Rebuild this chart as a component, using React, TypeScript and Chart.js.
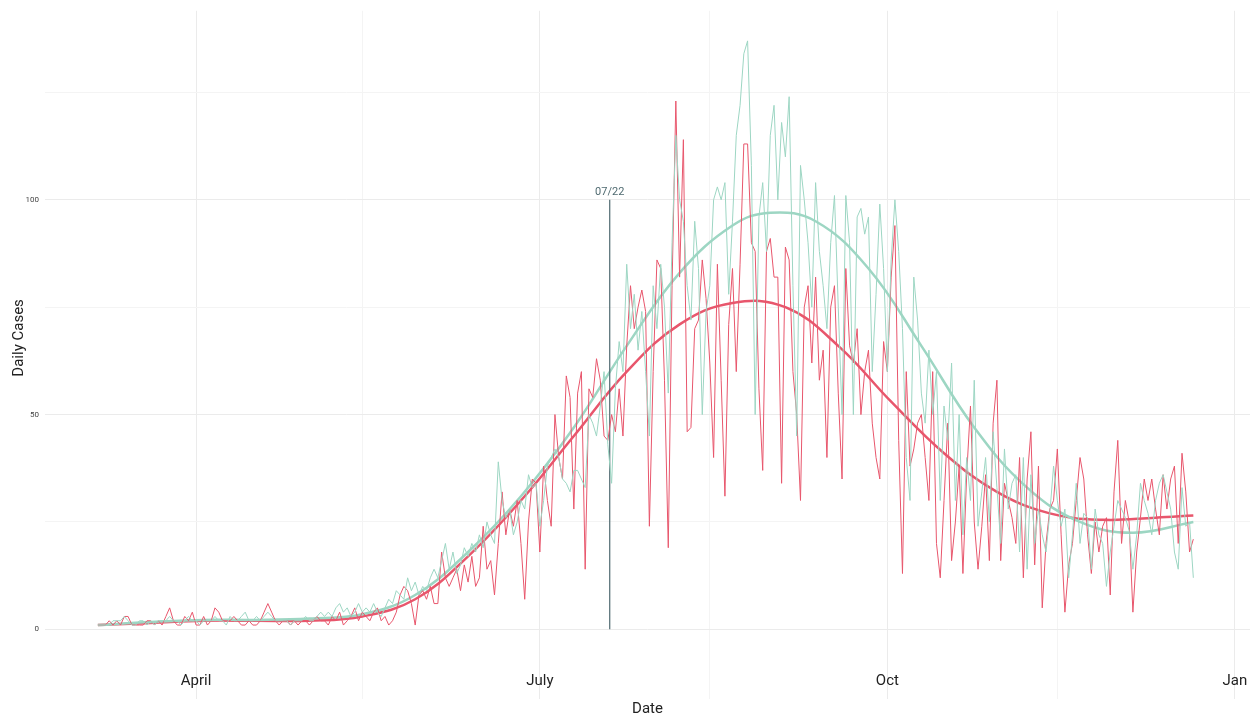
import { useEffect, useRef } from "react"
import { Chart, registerables } from "chart.js"

Chart.register(...registerables)

// days counted from April 1st; first observation is Mar 6 (day -26)
const startDay = -26
const markerDay = 109.5
const markerLabel = "07/22"

const xTickDays = [0, 44, 91, 136, 183, 228, 275]
const xTickNames: Record<number, string> = { 0: "April", 91: "July", 183: "Oct", 275: "Jan" }
const yTickValues = [0, 25, 50, 75, 100, 125]

const redDaily = [
  1, 1, 1, 2, 1, 2, 1, 3, 3, 1,
  1, 1, 1, 2, 2, 1, 2, 1, 3, 5,
  2, 1, 1, 3, 2, 4, 1, 1, 3, 1,
  2, 5, 4, 2, 2, 2, 3, 2, 1, 1,
  2, 1, 1, 2, 4, 6, 4, 2, 1, 2,
  2, 1, 2, 1, 2, 2, 1, 2, 3, 2,
  2, 1, 3, 2, 4, 1, 2, 3, 5, 2,
  4, 3, 2, 4, 5, 2, 3, 1, 2, 4,
  8, 10, 9, 6, 1, 8, 9, 7, 10, 6,
  6, 18, 12, 10, 12, 14, 9, 15, 11, 17,
  10, 12, 24, 14, 16, 8, 20, 32, 22, 28,
  24, 30, 20, 7, 25, 35, 34, 18, 38, 30,
  24, 50, 40, 35, 59, 54, 28, 55, 60, 14,
  56, 54, 63, 58, 45, 44, 50, 46, 56, 45,
  66, 80, 70, 75, 79, 74, 24, 60, 86, 84,
  58, 19, 80, 123, 82, 114, 46, 47, 70, 72,
  86, 77, 62, 40, 85, 58, 31, 71, 84, 60,
  85, 113, 113, 90, 88, 56, 37, 88, 91, 82,
  82, 34, 89, 86, 60, 50, 30, 75, 80, 62,
  82, 58, 65, 40, 75, 80, 55, 35, 84, 66,
  62, 70, 50, 60, 65, 48, 40, 35, 67, 60,
  82, 94, 44, 13, 60, 38, 42, 48, 50, 40,
  30, 60, 20, 12, 30, 48, 16, 25, 38, 13,
  36, 52, 25, 14, 24, 36, 16, 48, 58, 16,
  34, 30, 26, 20, 40, 12, 35, 46, 15, 38,
  5, 20, 28, 30, 42, 22, 4, 15, 20, 30,
  40, 35, 22, 13, 25, 18, 24, 26, 8, 32,
  44, 20, 30, 25, 4, 18, 26, 35, 30, 35,
  28, 22, 36, 28, 35, 38, 20, 41, 32, 18,
  21,
]

const tealDaily = [
  1, 1, 1, 1, 2, 2, 2, 3, 2, 1,
  1, 2, 2, 1, 2, 1, 2, 2, 2, 3,
  2, 2, 1, 2, 3, 2, 2, 1, 2, 2,
  2, 3, 2, 2, 1, 3, 2, 2, 3, 4,
  2, 2, 3, 2, 3, 4, 3, 2, 2, 2,
  2, 1, 2, 2, 2, 3, 2, 2, 3, 4,
  3, 4, 3, 5, 6, 4, 5, 3, 4, 6,
  4, 5, 4, 6, 4, 3, 5, 7, 6, 9,
  8, 7, 12, 9, 11, 8, 10, 9, 12, 14,
  12, 16, 20, 14, 18, 13, 15, 19, 17, 20,
  18, 22, 19, 25, 22, 20, 39, 30, 26, 28,
  22, 25, 30, 28, 36, 33, 34, 24, 30, 38,
  40, 42, 40, 35, 34, 32, 37, 37, 35, 33,
  50, 48, 45, 52, 60, 43, 34, 56, 67, 60,
  85, 70, 78, 65, 74, 60, 45, 80, 70, 85,
  75, 55, 90, 115, 100, 95, 80, 72, 95, 84,
  50, 74, 80, 100, 103, 100, 104, 78, 95, 115,
  122, 134, 137, 108, 50, 96, 104, 88, 115, 122,
  100, 118, 110, 124, 80, 45, 108, 100, 90, 75,
  104, 88, 80, 70, 90, 101, 75, 50, 101, 90,
  50, 96, 98, 92, 96, 60, 78, 99, 84, 60,
  86, 100, 88, 70, 40, 30, 82, 72, 55, 48,
  65, 50, 60, 30, 52, 44, 62, 30, 50, 22,
  40, 30, 58, 24, 32, 40, 25, 46, 33, 20,
  42, 28, 34, 36, 18, 40, 14, 36, 20, 28,
  22, 18, 27, 38, 30, 24, 28, 12, 22, 34,
  20, 27, 26, 14, 28, 22, 20, 10, 18, 24,
  30, 28, 26, 23, 14, 22, 34, 30, 27, 22,
  30, 34, 36, 32, 28, 18, 14, 33, 24, 25,
  12,
]

// smoothed trend, sampled at these days
const redTrendDays = [-26, -12, 2, 16, 30, 44, 58, 72, 86, 100, 114, 128, 142, 156, 170, 184, 198, 212, 226, 240, 254, 264]
const redTrend = [1, 1.5, 2, 2, 2, 3, 7, 17, 30, 45, 60, 71, 76, 75, 66, 53, 41, 32, 27, 25.5, 26, 26.5]
const tealTrendDays = [-26, -12, 2, 16, 30, 44, 58, 72, 86, 100, 114, 128, 142, 152, 164, 178, 192, 206, 220, 234, 248, 264]
const tealTrend = [1, 1.7, 2.2, 2.2, 2.5, 3.5, 8, 18, 31, 47, 66, 83, 94, 97, 95, 84, 66, 47, 33, 25, 22.5, 25]

const RED = "#e8566c"
const TEAL = "#9dd6c3"

const toPoints = (days: number[], vals: number[]) => vals.map((y, i) => ({ x: days[i], y }))
const daily = (vals: number[]) => vals.map((y, i) => ({ x: startDay + i, y }))

export default function App() {
  const ref = useRef<HTMLCanvasElement>(null)

  useEffect(() => {
    if (!ref.current) return
    const markerText = {
      id: "markerText",
      afterDatasetsDraw(chart: any) {
        const { ctx, scales } = chart
        ctx.save()
        ctx.fillStyle = "#4f6a70"
        ctx.font = "11px Roboto"
        ctx.textAlign = "center"
        ctx.textBaseline = "bottom"
        ctx.fillText(markerLabel, scales.x.getPixelForValue(markerDay), scales.y.getPixelForValue(100) - 2)
        ctx.restore()
      },
    }
    const chart = new Chart(ref.current, {
      type: "line",
      data: {
        datasets: [
          { data: daily(tealDaily), borderColor: TEAL, borderWidth: 1, pointRadius: 0, tension: 0 },
          { data: daily(redDaily), borderColor: RED, borderWidth: 1, pointRadius: 0, tension: 0 },
          { data: [{ x: markerDay, y: 0 }, { x: markerDay, y: 100 }], borderColor: "#4f6a70", borderWidth: 1.2, pointRadius: 0 },
          { data: toPoints(tealTrendDays, tealTrend), borderColor: TEAL, borderWidth: 2.5, pointRadius: 0, tension: 0.4 },
          { data: toPoints(redTrendDays, redTrend), borderColor: RED, borderWidth: 2.5, pointRadius: 0, tension: 0.4 },
        ],
      },
      options: {
        animation: false,
        responsive: false,
        layout: { padding: { left: 10, right: 5, top: 2 } },
        plugins: { legend: { display: false }, tooltip: { enabled: false } },
        scales: {
          x: {
            type: "linear",
            min: -40,
            max: 279,
            afterBuildTicks: (axis: any) => { axis.ticks = xTickDays.map((value) => ({ value })) },
            afterFit: (axis: any) => { axis.height = 57 },
            border: { display: false },
            grid: {
              color: (c: any) => (xTickNames[c.tick?.value] !== undefined ? "#ebebeb" : "#f4f4f4"),
              tickLength: 34,
              drawTicks: true,
            },
            ticks: {
              padding: -27,
              autoSkip: false,
              maxRotation: 0,
              color: "#222",
              font: { size: 15, family: "Roboto" },
              callback: (v: any) => xTickNames[v] ?? "",
            },
            title: { display: true, text: "Date", color: "#222", font: { size: 15, family: "Roboto" }, padding: { top: 0, bottom: 4 } },
          },
          y: {
            min: -8.3,
            max: 144,
            afterBuildTicks: (axis: any) => { axis.ticks = yTickValues.map((value) => ({ value })) },
            afterFit: (axis: any) => { axis.width = 35 },
            border: { display: false },
            grid: {
              color: (c: any) => (c.tick?.value % 50 === 0 ? "#ebebeb" : "#f4f4f4"),
              drawTicks: false,
            },
            ticks: {
              padding: 6,
              color: "#444",
              font: { size: 8, family: "Roboto" },
              callback: (v: any) => (v % 50 === 0 ? String(v) : ""),
            },
            title: { display: true, text: "Daily Cases", color: "#222", font: { size: 15, family: "Roboto" }, padding: 0 },
          },
        },
      },
      plugins: [markerText],
    } as any)
    return () => chart.destroy()
  }, [])

  return (
    <div style={{ position: "fixed", left: 0, top: 0, width: 1255, height: 722, background: "#fff" }}>
      <canvas ref={ref} width={1255} height={722} style={{ width: 1255, height: 722 }} />
    </div>
  )
}
